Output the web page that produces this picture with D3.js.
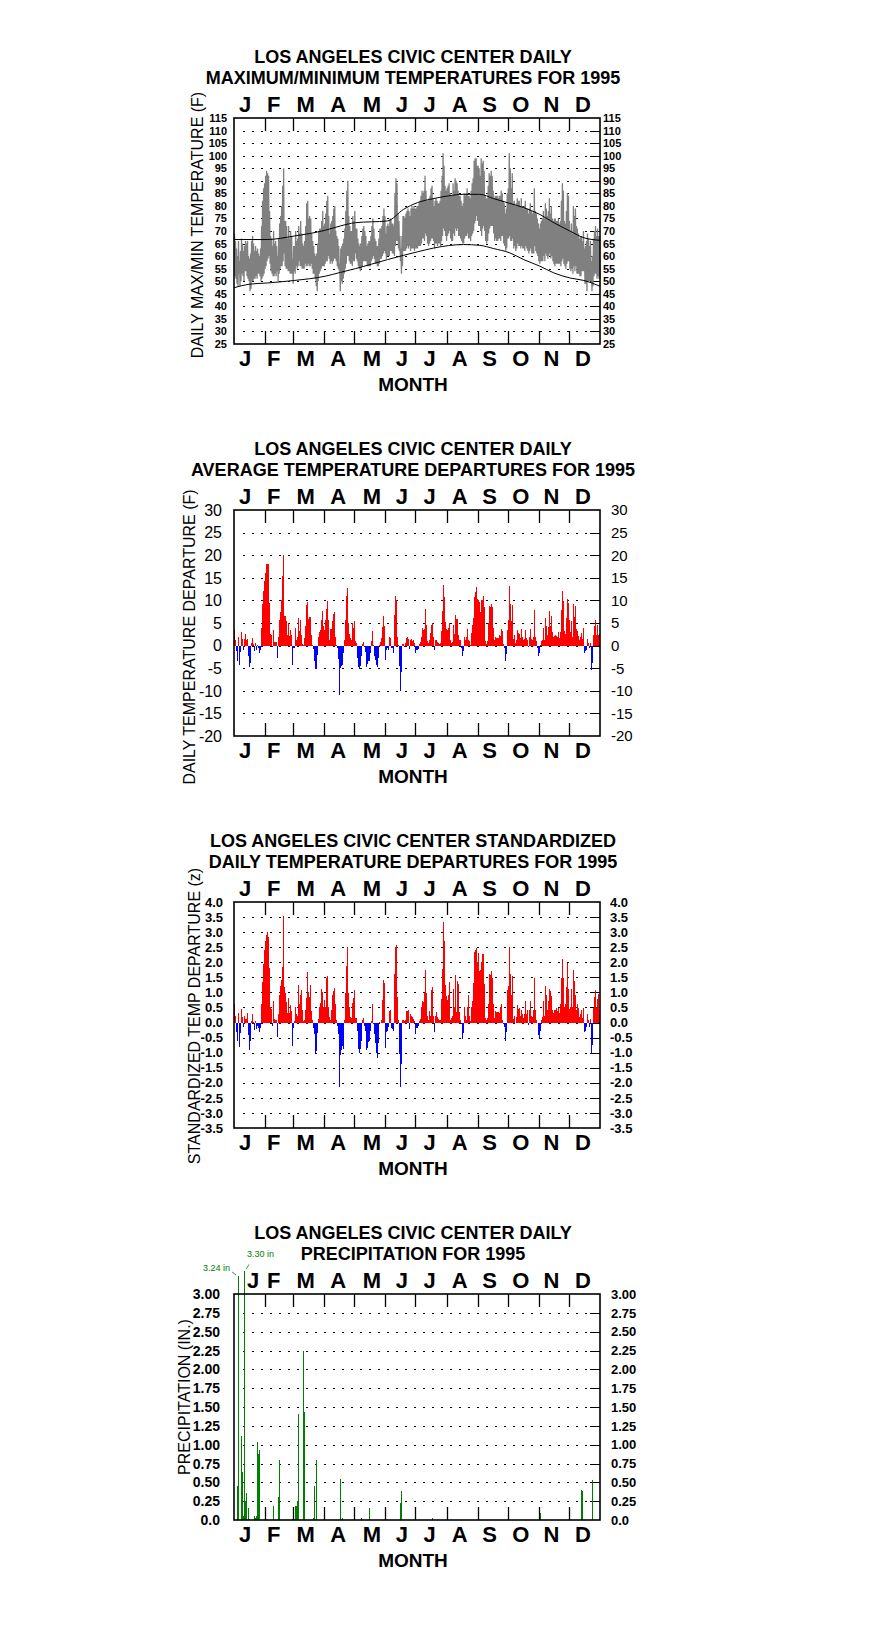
<!DOCTYPE html>
<html>
<head>
<meta charset="utf-8">
<script src="https://cdn.jsdelivr.net/npm/d3@7"></script>
<style>
  body { margin: 0; background: #fff; }
  text { font-family: "Liberation Sans", Arial, sans-serif; }
</style>
</head>
<body>
<div id="chart"></div>
<script>
// month labels and boundaries (day of year, 0 based)
var monthLetters = ["J","F","M","A","M","J","J","A","S","O","N","D"];
var monthBounds = [31,59,90,120,151,181,212,243,273,304,334];
var letterDays = [11,39.5,71.5,104,137.5,167.5,195,225,255,286,316.5,348];
var precipLetterDays = [19,39.5,71.5,104,137.5,167.5,195,225,255,286,316.5,348];

// tick labels
var tempTicks = [25,30,35,40,45,50,55,60,65,70,75,80,85,90,95,100,105,110,115];
var depTicks = [-20,-15,-10,-5,0,5,10,15,20,25,30];
var zTicks = [-3.5,-3,-2.5,-2,-1.5,-1,-0.5,0,0.5,1,1.5,2,2.5,3,3.5,4];
var precipTicks = [0,0.25,0.5,0.75,1,1.25,1.5,1.75,2,2.25,2.5,2.75,3];

// daily max / min temperatures (F)
var dailyMax = [
69,66,63,60,66,58,62,67,65,62, 64,66,65,66,60,59,61,66,68,65,
62,64,62,63,61,60,63,72,82,87, 89,92,94,93,92,78,68,67,64,70,
65,66,64,60,67,73,76,80,88,95, 74,74,72,67,72,67,70,68,59,64,
64,70,66,67,72,69,74,69,65,64, 66,72,81,82,75,76,75,69,66,64,
61,60,61,65,70,71,71,74,78,72, 73,77,82,84,76,69,73,74,76,79,
80,70,68,67,64,57,63,64,65,67, 71,78,86,90,76,72,70,70,76,74,
78,71,71,67,65,64,65,68,71,72, 70,68,64,65,66,66,68,72,75,71,
67,66,64,64,67,71,71,72,76,79, 76,69,72,73,72,75,75,73,73,72,
85,91,89,77,74,68,63,68,76,76, 75,77,78,79,78,76,79,80,79,80,
79,79,80,80,81,82,84,86,85,86, 92,86,82,82,83,84,87,88,83,80,
82,83,82,81,81,82,86,92,101,96, 88,86,87,88,89,85,84,84,89,86,
91,90,89,86,84,84,82,80,81,85, 84,85,87,84,84,83,86,89,91,98,
99,99,96,96,95,92,99,97,98,94, 84,83,83,88,93,92,94,92,86,83,
84,84,84,83,84,84,86,85,82,81, 77,79,85,87,101,95,87,93,81,82,
80,81,83,82,82,80,83,80,79,80, 82,79,79,77,79,81,78,77,78,87,
78,77,75,73,71,73,74,75,78,75, 81,79,76,78,83,77,80,75,74,75,
75,74,74,75,73,74,82,89,86,74, 73,78,85,84,74,70,73,69,80,76,
79,72,71,69,67,68,68,66,70,63, 64,66,69,67,64,66,58,60,67,70,
72,68,71,68,68
];
var dailyMin = [
52,51,49,48,53,48,50,53,52,50, 54,54,52,51,50,46,47,50,50,51,
51,52,51,53,53,52,50,51,52,53, 55,56,58,59,60,57,54,53,52,52,
53,52,54,50,53,55,56,56,58,61, 56,55,55,54,54,53,53,53,49,54,
53,56,55,56,58,56,56,55,55,55, 57,56,56,57,56,56,57,55,53,53,
51,48,46,50,53,54,55,56,56,56, 57,58,58,60,59,57,58,57,58,59,
59,58,56,55,54,46,50,49,51,53, 55,57,60,60,58,57,57,56,58,58,
61,59,58,56,55,54,55,56,58,58, 58,58,56,56,56,56,58,59,60,59,
57,57,56,56,57,59,59,60,61,62, 61,59,60,60,60,62,62,61,61,60,
64,66,66,63,62,58,53,56,62,62, 62,63,64,63,64,62,63,63,63,62,
63,63,63,64,64,64,65,67,67,66, 69,68,65,64,65,66,67,67,66,63,
65,65,64,65,65,64,66,68,71,70, 68,66,68,69,70,67,66,66,69,68,
71,70,71,68,68,67,66,65,65,67, 68,68,69,67,67,66,68,69,70,73,
74,76,74,72,72,70,68,71,72,70, 66,65,66,69,71,72,72,72,69,66,
67,66,66,67,67,66,68,68,65,64, 62,63,67,67,68,66,66,67,63,64,
62,63,65,64,64,63,64,63,63,62, 64,63,62,61,62,63,61,61,61,64,
62,61,60,58,57,58,58,58,60,58, 61,60,59,60,61,59,60,58,57,56,
57,57,57,57,57,56,58,59,57,56, 55,57,58,58,55,54,55,53,56,54,
56,53,53,53,52,52,54,54,54,49, 49,46,50,50,50,50,46,48,52,53,
53,51,52,51,51
];

// normal max / min curves
var normalDays = [0,15,33,60,91,106,121,153,169,183,199,214,229,245,259,275,289,305,319,335,349,365];
var normalMax  = [66.6,66.6,66.6,68,70.3,72,73.3,74,78.6,81.3,82.9,84,84.6,84.6,82.9,81,79.3,76.6,73.3,70,67.3,66.3];
var normalMin  = [47.4,48.8,49.3,50.3,52,53.5,55,58.6,60.3,61.7,63.2,64.2,64.6,64.3,63,61.3,58.6,56,53.3,51.3,50.3,48];

// daily average temperature departures (F)
var departures = [
3.5,1.3,-1.2,-3.5,2,-4.2,-1.5,3,1.5,-1, 1.5,2.5,1.2,1.5,-2.2,-4.8,-3.8,0.5,1.7,0.4,
-1.1,0.5,-1,0.2,-0.6,-1.6,-1,4,9.3,12, 14.4,16,18,18,18,9.5,2.6,2.3,-0.3,3.4,
0.9,0.9,0.9,-2.7,1.9,5.6,7.5,10,15.4,20, 6.6,6.5,5.4,2.4,5.1,2.2,3.5,2.4,-4.2,-0.6,
-0.6,4,1.3,2,6,3.2,5.7,2.3,0.4,0.1, 1.7,4.4,9,9.7,5.8,6.3,6.4,2.4,0.2,-0.7,
-3.5,-5.1,-5.1,-2,2,3,3.4,5.7,7.6,4.3, 3.5,5.7,8.1,9.9,5.7,1.2,3.7,3.7,5.4,7,
7.5,1.9,0.1,-0.6,-3,-11,-5,-4.6,-4.2,-1.6, 1.3,5.7,10.9,12.7,5.1,2.6,1.7,1.3,5.1,3.9,
5.4,1,0.6,-2.8,-4.7,-5.2,-4.6,-2.4,0.4,0.9, -0.3,-1.5,-4.8,-4,-3.3,-3.5,-1.6,1.1,3.2,0.1,
-2.2,-3.2,-4.4,-4.8,-2.7,0.2,0.7,1.6,4.1,6.5, 4.3,-3.2,-0.9,-0.5,-0.9,1.9,1.7,-0.6,-0.6,-1.6,
6.8,11,10.1,1.9,0.2,-4.6,-10,-5.9,0.4,0.4, -0.3,0.6,1.6,1.8,1.5,-0.7,1.3,1.5,1,1.3,
0.6,-1.6,-1,-0.7,0.4,0.9,2,4,3.4,3.7, 8.2,4.6,1,0.6,1.3,2.8,4.6,5,2,-1,
1.2,1.3,0.8,0.6,0.4,0.5,3.3,7.6,13.5,10.7, 5.3,3.7,3.4,4,4.9,1.3,0.6,0.7,4.6,2.6,
6.8,5.9,5.9,2.4,1.3,1.2,-0.5,-2.2,-1.3,1.9, 1.3,2,3.7,1.2,1,0.2,2.8,4.6,6.1,10.7,
11.8,12.9,10.3,10.1,9.6,7.4,10,10.1,11,8.5, 1,0.4,1,4.9,8.8,8.5,9.3,8.5,3.9,1.2,
2,1.7,1.7,1.7,2.3,2.2,3.7,3.2,0.3,-0.5, -3.5,-1.8,3.4,5.6,13.2,9.3,5.4,9,1.5,2.4,
0.5,1.2,3.5,2.8,2.6,1.7,3.7,2,1.3,1.5, 3.5,1.6,1.3,-0.3,2,3.7,1.5,1.3,1.9,7.8,
2,1.1,-0.5,-2.4,-1.6,0.2,1,1.3,3.9,1.3, 6.1,4.4,2.4,4.1,7.6,4.4,6.6,2.9,1.9,2.2,
2.4,2.2,1.9,2.9,1.7,2.9,7.9,12,9.8,3.2, 2.6,6.1,10.3,9.4,5.7,2.9,5.4,1.9,9.3,6.3,
8.7,3.7,3.2,2.2,1.2,1.9,2.8,1.5,3.9,-1.6, -1.3,-0.9,1.5,0.6,-0.6,0.6,-5.4,-3.8,2.4,4.4,
5.7,2.4,4.6,2.4,2.5
];

// standardized departures (z)
var zScores = [
0.6,0.23,-0.3,-0.6,0.3,-0.8,-0.35,0.45,0.2,-0.15, 0.23,0.12,0.12,0.3,-0.4,-0.9,-0.6,0.05,0.27,0.02,
-0.25,0.05,-0.22,-0.1,-0.18,-0.32,-0.18,0.6,1.35,1.95, 2.4,2.7,2.9,3.0,2.85,1.8,0.5,0.45,-0.13,0.7,
0.13,0.1,0.07,-0.47,0.27,0.93,1.2,1.4,1.85,3.55, 1.18,0.98,0.68,0.3,0.8,0.3,0.57,0.38,-0.77,-0.18,
0.05,0.5,0.27,0.23,1.23,0.62,0.9,1.07,0.4,0.05, 0.1,0.4,0.82,1.68,1.0,0.85,1.23,0.38,0.07,-0.18,
-0.38,-1.0,-0.93,-0.36,0.12,0.5,0.64,1.12,1.0,0.51, 0.76,0.5,1.49,1.53,0.53,0.18,0.07,0.42,0.93,1.04,
1.16,0.62,0.07,-0.13,-0.38,-2.13,-1.07,-0.91,-0.77,-0.89, 0.07,0.98,1.87,2.51,0.98,0.5,0.18,0.16,0.64,0.82,
1.07,0.16,0.16,-0.27,-0.88,-1.0,-0.88,-0.6,0.07,0.16, -0.13,-0.27,-0.91,-0.84,-0.66,-0.6,-0.27,0.05,0.6,-0.05,
-0.38,-0.69,-1.02,-1.18,-0.69,0.03,-0.02,0.07,0.76,1.4, 1.32,-0.84,-0.32,-0.27,-0.15,0.38,0.42,-0.18,-0.2,-0.27,
1.6,2.51,2.57,0.85,0.07,-1.04,-2.15,-1.36,0.07,0.07, 0.04,0.07,0.38,0.38,0.4,-0.2,0.27,0.23,0.2,0.12,
0.04,-0.38,-0.18,-0.1,0.05,0.12,0.5,0.73,0.68,0.98, 1.73,0.98,0.23,0.1,0.38,0.23,1.07,1.18,0.23,-0.32,
0.23,0.34,0.2,0.12,0.07,0.1,0.79,1.79,3.34,2.71, 1.23,0.87,0.76,0.93,1.34,0.1,0.16,0.23,1.11,0.53,
1.57,0.34,1.38,1.29,0.34,0.07,-0.05,-0.54,-0.36,0.5, 0.23,0.07,0.53,0.9,0.23,0.05,0.53,0.73,1.31,2.34,
2.42,2.46,2.01,2.31,1.71,1.73,2.01,2.29,2.29,1.29, 0.16,0.07,0.16,0.62,1.6,1.57,1.71,1.49,0.62,0.16,
0.38,0.34,0.34,0.34,0.31,0.51,0.62,0.07,-0.05,-0.15, -0.62,-0.32,1.07,1.2,2.51,1.6,0.9,1.53,0.12,0.23,
-0.02,0.18,0.57,0.46,0.49,0.23,0.42,0.27,0.16,0.27, 0.73,0.27,0.42,-0.07,0.4,0.7,0.23,0.2,0.42,1.49,
0.4,0.07,-0.02,-0.43,-0.56,-0.29,0.1,0.2,0.73,0.23, 1.2,0.93,0.42,0.73,1.12,1.04,0.87,0.42,0.31,0.4,
0.4,0.49,0.38,0.49,0.31,0.6,1.49,2.12,1.49,0.51, 0.62,1.18,1.96,1.12,0.46,0.51,1.12,0.53,1.73,1.38,
0.9,0.4,0.6,0.49,0.18,0.29,0.42,0.16,0.49,-0.32, -0.27,-0.15,0.27,0.07,-0.15,0.12,-1.04,-0.73,0.49,0.84,
1.09,0.49,0.79,0.96,0.4
];

// daily precipitation (inches), only days with rain
var precipDays   = [3,4,7,8,9,10,11,12,14,15,20,21,22,23,24,25,39,44,45,58,61,62,63,64,69,70,79,80,82,106,108,127,135,166,167,197,305,346,347,357];
var precipValues = [0.45,3.24,1.12,0.64,0.05,3.30,0.25,0.36,0.16,0.01,0.05,0.02,0.05,1.04,0.87,0.93,0.18,0.30,0.80,0.01,0.19,0.19,0.25,1.41,2.25,1.44,0.03,0.45,0.80,0.54,0.03,0.03,0.16,0.22,0.38,0.02,0.09,0.40,0.39,0.53];

var W = 876, H = 1634;
var L = 234, R = 600, PH = 226;

var svg = d3.select("#chart").append("svg")
  .attr("width", W).attr("height", H);

var x = d3.scaleLinear().domain([0, 365]).range([L, R]);

function drawPanel(p) {
  var T = p.top, B = T + PH;
  var y = d3.scaleLinear().domain(p.domain).range([B, T]);
  var g = svg.append("g");

  // dotted grid
  p.ticks.filter(function(v) { return v > p.domain[0] && v < p.domain[1]; }).forEach(function(v) {
    var yy = Math.round(y(v)) + 0.5;
    g.append("line").attr("x1", L + 9).attr("x2", R - 10).attr("y1", yy).attr("y2", yy)
      .attr("stroke", "#000").attr("stroke-width", 1.4).attr("stroke-dasharray", "2,7")
      .attr("shape-rendering", "crispEdges");
    g.append("line").attr("x1", R - 10).attr("x2", R).attr("y1", yy).attr("y2", yy)
      .attr("stroke", "#000").attr("stroke-width", 1.4).attr("shape-rendering", "crispEdges");
  });

  p.draw(g, y);

  // frame
  g.append("rect").attr("x", L).attr("y", T).attr("width", R - L).attr("height", PH)
    .attr("fill", "none").attr("stroke", "#000").attr("stroke-width", 1.6);

  // month ticks top and bottom
  monthBounds.forEach(function(d) {
    var xx = Math.round(x(d)) + 0.5;
    g.append("line").attr("x1", xx).attr("x2", xx).attr("y1", T).attr("y2", T + 13)
      .attr("stroke", "#000").attr("stroke-width", 1.3);
    g.append("line").attr("x1", xx).attr("x2", xx).attr("y1", B - 13).attr("y2", B)
      .attr("stroke", "#000").attr("stroke-width", 1.3);
  });

  // y labels
  p.ticks.forEach(function(v) {
    g.append("text").attr("x", L - p.leftGap).attr("y", y(v)).attr("dy", "0.36em")
      .attr("text-anchor", "end").attr("font-size", p.leftSize).attr("font-weight", p.leftWeight)
      .text(p.fmt(v));
    g.append("text").attr("x", R + p.rightGap).attr("y", y(v)).attr("dy", "0.36em")
      .attr("text-anchor", "start").attr("font-size", p.rightSize).attr("font-weight", p.rightWeight)
      .text(p.fmt(v));
  });

  // month letters
  var topDays = p.topLetters || letterDays;
  monthLetters.forEach(function(m, i) {
    g.append("text").attr("x", x(topDays[i])).attr("y", T - 6).attr("text-anchor", "middle")
      .attr("font-size", 22).attr("font-weight", "bold").text(m);
    g.append("text").attr("x", x(letterDays[i])).attr("y", B + 22).attr("text-anchor", "middle")
      .attr("font-size", 22).attr("font-weight", "bold").text(m);
  });

  // titles
  g.append("text").attr("x", 413).attr("y", T - 55).attr("text-anchor", "middle")
    .attr("font-size", 18).attr("font-weight", "bold").text(p.title[0]);
  g.append("text").attr("x", 413).attr("y", T - 34).attr("text-anchor", "middle")
    .attr("font-size", 18).attr("font-weight", "bold").text(p.title[1]);
  g.append("text").attr("x", 413).attr("y", B + 47).attr("text-anchor", "middle")
    .attr("font-size", 19).attr("font-weight", "bold").text("MONTH");
  g.append("text").attr("transform", "translate(" + p.ytX + "," + p.ytY + ") rotate(-90)")
    .attr("text-anchor", "middle").attr("font-size", 16).text(p.ytitle);
}

function drawBars(values) {
  return function(g, y) {
    g.selectAll(null).data(values).enter().append("rect")
      .attr("x", function(d, i) { return x(i); })
      .attr("width", function(d, i) { return x(i + 1) - x(i); })
      .attr("y", function(d) { return y(Math.max(d, 0)); })
      .attr("height", function(d) { return Math.abs(y(d) - y(0)); })
      .attr("fill", function(d) { return d >= 0 ? "#ff0000" : "#0000ff"; })
      .attr("shape-rendering", "crispEdges");
  };
}

// panel 1: max/min temperatures
drawPanel({
  top: 118, domain: [25, 115], ticks: tempTicks,
  fmt: function(v) { return v; },
  leftGap: 7, leftSize: 11, leftWeight: "bold", rightGap: 3, rightSize: 11, rightWeight: "bold",
  title: ["LOS ANGELES CIVIC CENTER DAILY", "MAXIMUM/MINIMUM TEMPERATURES FOR 1995"],
  ytitle: "DAILY MAX/MIN TEMPERATURE (F)", ytX: 203, ytY: 225,
  draw: function(g, y) {
    var pts = [];
    dailyMax.forEach(function(v, i) {
      pts.push([x(i) + 0.5, y(v)]);
      pts.push([x(i) + 1, y(dailyMin[i])]);
    });
    g.append("path").attr("d", d3.line()(pts)).attr("fill", "none")
      .attr("stroke", "#808080").attr("stroke-width", 1.3);
    var nl = d3.line().x(function(d, i) { return x(normalDays[i]); })
      .y(function(d) { return y(d); }).curve(d3.curveMonotoneX);
    g.append("path").attr("d", nl(normalMax)).attr("fill", "none").attr("stroke", "#000").attr("stroke-width", 1);
    g.append("path").attr("d", nl(normalMin)).attr("fill", "none").attr("stroke", "#000").attr("stroke-width", 1);
  }
});

// panel 2: departures
drawPanel({
  top: 510, domain: [-20, 30], ticks: depTicks,
  fmt: function(v) { return v; },
  leftGap: 12, leftSize: 16, leftWeight: "normal", rightGap: 11, rightSize: 15, rightWeight: "normal",
  title: ["LOS ANGELES CIVIC CENTER DAILY", "AVERAGE TEMPERATURE DEPARTURES FOR 1995"],
  ytitle: "DAILY TEMPERATURE DEPARTURE (F)", ytX: 195, ytY: 637,
  draw: drawBars(departures)
});

// panel 3: standardized departures
drawPanel({
  top: 902, domain: [-3.5, 4], ticks: zTicks,
  fmt: function(v) { return v.toFixed(1); },
  leftGap: 11, leftSize: 13, leftWeight: "bold", rightGap: 10, rightSize: 13, rightWeight: "bold",
  title: ["LOS ANGELES CIVIC CENTER STANDARDIZED", "DAILY TEMPERATURE DEPARTURES FOR 1995"],
  ytitle: "STANDARDIZED TEMP DEPARTURE (z)", ytX: 200, ytY: 1016,
  draw: drawBars(zScores)
});

// panel 4: precipitation
drawPanel({
  top: 1294, domain: [0, 3], ticks: precipTicks,
  fmt: function(v) { return v === 0 ? "0.0" : v.toFixed(2); },
  leftGap: 14, leftSize: 14, leftWeight: "bold", rightGap: 11, rightSize: 13, rightWeight: "bold",
  topLetters: precipLetterDays,
  title: ["LOS ANGELES CIVIC CENTER DAILY", "PRECIPITATION FOR 1995"],
  ytitle: "PRECIPITATION (IN.)", ytX: 190, ytY: 1397,
  draw: function(g, y) {
    g.selectAll(null).data(precipValues).enter().append("rect")
      .attr("x", function(d, i) { return x(precipDays[i]); })
      .attr("width", 1)
      .attr("y", function(d) { return y(d); })
      .attr("height", function(d) { return y(0) - y(d); })
      .attr("fill", "#008000").attr("shape-rendering", "crispEdges");
    // labels for the two off-scale days
    precipValues.forEach(function(v, i) {
      if (v <= 3) return;
      var bx = x(precipDays[i]), by = y(v);
      var left = v < 3.27;
      g.append("line")
        .attr("x1", left ? bx - 6 : bx + 2).attr("y1", left ? by - 4 : by - 2)
        .attr("x2", left ? bx - 2 : bx + 5).attr("y2", left ? by - 1 : by - 7)
        .attr("stroke", "#008000").attr("stroke-width", 0.8);
      g.append("text").attr("x", left ? bx - 8 : bx + 3).attr("y", left ? by - 5 : by - 14)
        .attr("text-anchor", left ? "end" : "start").attr("font-size", 9).attr("fill", "#008000")
        .text(v.toFixed(2) + " in");
    });
  }
});
</script>
</body>
</html>
